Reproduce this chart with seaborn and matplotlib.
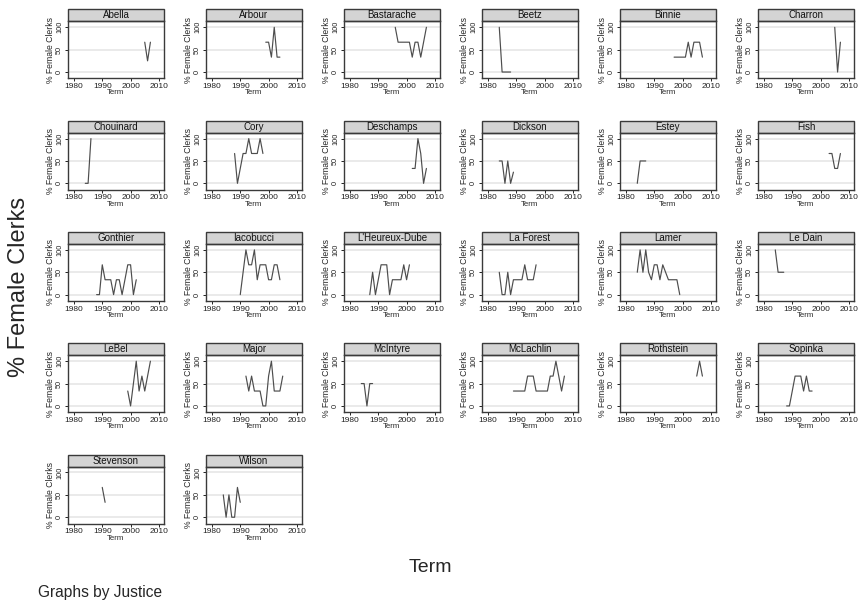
import matplotlib
matplotlib.use("Agg")
import matplotlib.pyplot as plt
import seaborn as sns
import pandas as pd
from matplotlib.patches import Rectangle

# justices in panel order, first term of each series
justices = [
    "Abella", "Arbour", "Bastarache", "Beetz", "Binnie", "Charron",
    "Chouinard", "Cory", "Deschamps", "Dickson", "Estey", "Fish",
    "Gonthier", "Iacobucci", "L'Heureux-Dube", "La Forest", "Lamer", "Le Dain",
    "LeBel", "Major", "McIntyre", "McLachlin", "Rothstein", "Sopinka",
    "Stevenson", "Wilson",
]
first_term = [
    2005, 1999, 1996, 1984, 1997, 2005,
    1984, 1988, 2002, 1984, 1984, 2003,
    1988, 1990, 1987, 1984, 1984, 1984,
    1999, 1992, 1984, 1989, 2005, 1988,
    1990, 1984,
]

# % female clerks, one value per term
abella = [66.7, 25, 66.7]
arbour = [66.7, 66.7, 33.3, 100, 33.3, 33.3]
bastarache = [100, 66.7, 66.7, 66.7, 66.7, 66.7, 33.3, 66.7, 66.7, 33.3, 66.7, 100]
beetz = [100, 0, 0, 0, 0]
binnie = [33.3, 33.3, 33.3, 33.3, 33.3, 66.7, 33.3, 66.7, 66.7, 66.7, 33.3]
charron = [100, 0, 66.7]
chouinard = [0, 0, 100]
cory = [66.7, 0, 33.3, 66.7, 66.7, 100, 66.7, 66.7, 66.7, 100, 66.7]
deschamps = [33.3, 33.3, 100, 66.7, 0, 33.3]
dickson = [50, 50, 0, 50, 0, 25]
estey = [0, 50, 50, 50]
fish = [66.7, 66.7, 33.3, 33.3, 66.7]
gonthier = [0, 0, 66.7, 33.3, 33.3, 33.3, 0, 33.3, 33.3, 0, 33.3, 66.7, 66.7, 0, 33.3]
iacobucci = [0, 50, 100, 66.7, 66.7, 100, 33.3, 66.7, 66.7, 66.7, 33.3, 33.3, 66.7, 66.7, 33.3]
lheureux_dube = [0, 50, 0, 33.3, 66.7, 66.7, 66.7, 0, 33.3, 33.3, 33.3, 33.3, 66.7, 33.3, 66.7]
la_forest = [50, 0, 0, 50, 0, 33.3, 33.3, 33.3, 33.3, 66.7, 33.3, 33.3, 33.3, 66.7]
lamer = [50, 100, 50, 100, 50, 33.3, 66.7, 66.7, 33.3, 66.7, 50, 33.3, 33.3, 33.3, 33.3, 0]
le_dain = [100, 50, 50, 50]
lebel = [33.3, 0, 50, 100, 33.3, 66.7, 33.3, 66.7, 100]
major = [66.7, 33.3, 66.7, 33.3, 33.3, 33.3, 0, 0, 66.7, 100, 33.3, 33.3, 33.3, 66.7]
mcintyre = [50, 50, 0, 50, 50]
mclachlin = [33.3, 33.3, 33.3, 33.3, 33.3, 66.7, 66.7, 66.7, 33.3, 33.3, 33.3, 33.3, 33.3,
             66.7, 66.7, 100, 66.7, 33.3, 66.7]
rothstein = [66.7, 100, 66.7]
sopinka = [0, 0, 33.3, 66.7, 66.7, 66.7, 33.3, 66.7, 33.3, 33.3]
stevenson = [66.7, 33.3]
wilson = [50, 0, 50, 0, 0, 66.7, 33.3]

pct_values = [
    abella, arbour, bastarache, beetz, binnie, charron,
    chouinard, cory, deschamps, dickson, estey, fish,
    gonthier, iacobucci, lheureux_dube, la_forest, lamer, le_dain,
    lebel, major, mcintyre, mclachlin, rothstein, sopinka,
    stevenson, wilson,
]

rows = []
for name, start, vals in zip(justices, first_term, pct_values):
    for k, v in enumerate(vals):
        rows.append({"Justice": name, "Term": start + k, "Pct": v})
df = pd.DataFrame(rows)

sns.set_style("white")
plt.rcParams["font.family"] = ["Liberation Sans", "DejaVu Sans"]

W, H = 860, 604
fig = plt.figure(figsize=(W / 100, H / 100), dpi=100)

frame_col = "#3a3a3a"
for i, name in enumerate(justices):
    r, c = divmod(i, 6)
    x0 = 68 + 138 * c
    top = 21.3 + 111.3 * r
    ax = fig.add_axes([x0 / W, 1 - (top + 57) / H, 96 / W, 57 / H])
    sub = df[df["Justice"] == name]
    for g in [0, 50, 100]:
        ax.axhline(g, color="#e6e6e6", lw=1.2, zorder=0)
    sns.lineplot(data=sub, x="Term", y="Pct", ax=ax, color="#4d4d4d",
                 lw=0.85, estimator=None)
    ax.set_xlim(1977.9, 2011.8)
    ax.set_ylim(-14, 113.4)
    ax.set_xticks([1980, 1990, 2000, 2010])
    ax.set_yticks([0, 50, 100])
    ax.tick_params(axis="both", length=2.5, width=0.7, pad=1,
                   direction="out", colors="#222222", left=True, bottom=True)
    ax.tick_params(axis="x", labelsize=6.0)
    ax.tick_params(axis="y", labelsize=5.3)
    for lab in ax.get_yticklabels():
        lab.set_rotation(90)
        lab.set_va("center")
    ax.set_xlabel("Term", fontsize=5.6, labelpad=-0.5)
    ax.set_ylabel("% Female Clerks", fontsize=6.2, labelpad=0.5)
    for sp in ax.spines.values():
        sp.set_color(frame_col)
        sp.set_linewidth(1.0)
    # strip header
    ax.add_patch(Rectangle((0, 1), 1, 12 / 57, transform=ax.transAxes,
                           facecolor="#d4d4d4", edgecolor=frame_col, lw=1.0,
                           clip_on=False))
    ax.text(0.5, 1 + 6 / 57, name, transform=ax.transAxes, ha="center",
            va="center", fontsize=7, color="#111111")

fig.text(19 / W, 1 - 287 / H, "% Female Clerks", rotation=90, ha="center",
         va="center", fontsize=17)
fig.text(430 / W, 1 - 567 / H, "Term", ha="center", va="center", fontsize=14)
fig.text(38 / W, 1 - 593 / H, "Graphs by Justice", ha="left", va="center",
         fontsize=11.2)

plt.savefig("out.png", dpi=100)
